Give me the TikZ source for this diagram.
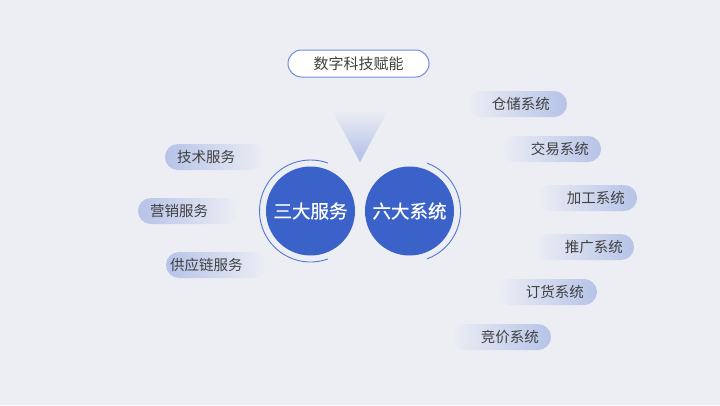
\documentclass[tikz,border=0pt]{standalone}
\usepackage{fontspec}
\setmainfont{Noto Sans CJK SC}
\newfontfamily\cjkmed[FakeBold=0.6]{Noto Sans CJK SC}
\usetikzlibrary{shapes.misc}
\definecolor{bg}{HTML}{ECEEF4}
\definecolor{pillblue}{HTML}{B6C3E8}
\definecolor{circblue}{HTML}{3A62C8}
\definecolor{ringblue}{HTML}{5377D6}
\definecolor{topborder}{HTML}{6F8EE0}
\definecolor{txt}{HTML}{404040}
\tikzset{
  lpill/.style={rounded rectangle, minimum width=100pt, minimum height=26pt, inner sep=0pt, left color=pillblue, right color=bg},
  rpill/.style={rounded rectangle, minimum width=100pt, minimum height=26pt, inner sep=0pt, left color=bg, right color=pillblue},
  ptext/.style={font=\fontsize{14.5}{16}\selectfont, text=txt, inner sep=0pt},
  bigcirc/.style={circle, fill=circblue, minimum size=89pt, inner sep=0pt, text=white, font=\cjkmed\fontsize{18.5}{20}\selectfont},
  ring/.style={ringblue, line width=0.9pt},
  toppill/.style={rounded rectangle, draw=topborder, line width=1pt, fill=white, minimum width=141pt, minimum height=27pt, inner sep=0pt, text=txt, font=\fontsize{15}{17}\selectfont}
}
\begin{document}
\begin{tikzpicture}[x=1pt,y=-1pt]
\fill[bg] (0,0) rectangle (720,405);
\useasboundingbox (0,0) rectangle (720,405);
% top pill
\node[toppill] (top) at (358.5,63.5) {数字科技赋能};
% triangle
\shade[top color=bg, bottom color=pillblue!95!circblue] (332,110) -- (388,110) -- (360,162) -- cycle;
% circles
\node[bigcirc] (c1) at (310.5,211) {三大服务};
\node[bigcirc] (c2) at (409.5,211) {六大系统};
\draw[ring] (c1.center) ++(70:51) arc[start angle=70, end angle=290, radius=51];
\draw[ring] (c2.center) ++(-70:51) arc[start angle=-70, end angle=70, radius=51];
% left pills
\node[lpill] (l1) at (215,157) {};
\node[ptext, anchor=west] (t1) at (177,157) {技术服务};
\node[lpill] (l2) at (188,211) {};
\node[ptext, anchor=west] (t2) at (150,211) {营销服务};
\node[lpill] (l3) at (216,265) {};
\node[ptext, anchor=west] (t3) at (170,265) {供应链服务};
% right pills
\node[rpill] (r1) at (517,104) {};
\node[ptext, anchor=east] (s1) at (550,104) {仓储系统};
\node[rpill] (r2) at (551,149) {};
\node[ptext, anchor=east] (s2) at (589,149) {交易系统};
\node[rpill] (r3) at (587,198) {};
\node[ptext, anchor=east] (s3) at (625,198) {加工系统};
\node[rpill] (r4) at (584,247) {};
\node[ptext, anchor=east] (s4) at (623,247) {推广系统};
\node[rpill] (r5) at (547,292) {};
\node[ptext, anchor=east] (s5) at (584,292) {订货系统};
\node[rpill] (r6) at (501,337) {};
\node[ptext, anchor=east] (s6) at (539,337) {竞价系统};
\end{tikzpicture}
\end{document}
